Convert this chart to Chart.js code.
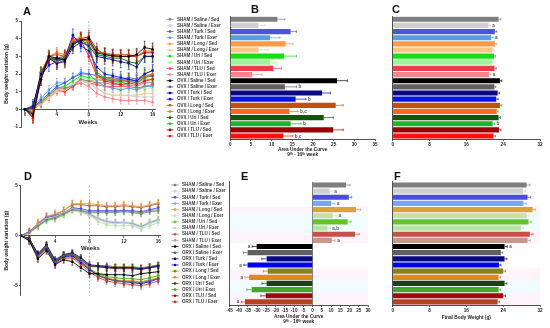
<!DOCTYPE html>
<html><head><meta charset="utf-8">
<script src="https://cdn.jsdelivr.net/npm/chart.js@4.4.1/dist/chart.umd.min.js"></script>
<style>
html,body{margin:0;padding:0;background:#fff}
body{width:550px;height:328px;position:relative;overflow:hidden;font-family:"Liberation Sans",Arial,sans-serif}
canvas{position:absolute}
.pl{position:absolute;font:bold 11px "Liberation Sans",Arial,sans-serif;line-height:11px;color:#111}
</style></head><body>
<canvas id="cA" width="160" height="140" style="left:0;top:0"></canvas>
<canvas id="cB" width="220" height="165" style="left:160px;top:0"></canvas>
<canvas id="cC" width="170" height="165" style="left:380px;top:0"></canvas>
<canvas id="cD" width="165" height="140" style="left:0;top:165px"></canvas>
<canvas id="cE" width="220" height="163" style="left:160px;top:165px"></canvas>
<canvas id="cF" width="170" height="163" style="left:380px;top:165px"></canvas>
<div class="pl" style="left:23px;top:6px">A</div>
<div class="pl" style="left:251px;top:4px">B</div>
<div class="pl" style="left:392px;top:4px">C</div>
<div class="pl" style="left:24px;top:171px">D</div>
<div class="pl" style="left:241px;top:171px">E</div>
<div class="pl" style="left:394px;top:171px">F</div>
<script>
// ---------- shared ----------
const weeks = [0,1,2,3,4,5,6,7,8,9,10,11,12,13,14,15,16];
const weekTicksA = [0,4,8,12,16];
const weekTicksD = [4,8,12,16];
const exerciseStartWeek = 8;

const labelsTop = ["SHAM / Saline / Sed","SHAM / Saline / Exer","SHAM / Turk / Sed","SHAM / Turk / Exer","SHAM / Long / Sed","SHAM / Long / Exer","SHAM / Uri / Sed","SHAM / Uri / Exer","SHAM / TLU / Sed","SHAM / TLU / Exer","OVX / Saline / Sed","OVX / Saline / Exer","OVX / Turk / Sed","OVX / Turk / Exer","OVX / Long / Sed","OVX / Long / Exer","OVX / Uri / Sed","OVX / Uri / Exer","OVX / TLU / Sed","OVX / TLU / Exer"];
const labelsBottom = ["SHAM / Saline / Sed","SHAM / Saline / Exer","SHAM / Turk / Sed","SHAM / Turk / Exer","SHAM / Long / Sed","SHAM / Long / Exer","SHAM / Uri / Sed","SHAM / Uri / Exer","SHAM / TLU / Sed","SHAM / TLU / Exer","ORX / Saline / Sed","ORX / Saline / Exer","ORX / Turk / Sed","ORX / Turk / Exer","ORX / Long / Sed","ORX / Long / Exer","ORX / Uri / Sed","ORX / Uri / Exer","ORX / TLU / Sed","ORX / TLU / Exer"];
const colorsTop = ["#7f7f7f","#cfcfcf","#4c55d9","#5b9be6","#ff9a4a","#ffc48c","#19dd19","#a3f0a3","#f03a46","#f5868c","#000000","#5f5f5f","#0a0a80","#0a14e6","#c0520e","#ff6a1a","#0a5a0a","#22b322","#990000","#ff1111"];
const colorsBottom = ["#7f7f7f","#cfcfcf","#4a4ae0","#7aa6f0","#d9a33a","#c8e0a0","#66c22a","#b5e6a5","#c8504a","#c8978a","#000000","#5f5f5f","#0a0a80","#0000ee","#84841a","#e08a1a","#1f4010","#44a82a","#a00a0a","#b8402a"];

// ---------- Panel A (female body weight variation, g) ----------
const A_sham_saline_sed = [0,0.1,0.4,0.8,1.2,1.2,1.3,1.7,1.6,1.5,1.5,1.4,1.4,1.4,1.3,1.5,1.5];
const A_sham_saline_exer= [0,0.1,0.3,0.7,1.1,1.2,1.4,1.6,1.5,1.2,0.9,0.8,0.8,0.8,0.7,0.7,0.7];
const A_sham_turk_sed   = [0,0.1,0.5,0.9,1.3,1.5,1.8,2.0,2.0,1.9,1.8,1.8,1.7,1.8,1.7,2.0,2.2];
const A_sham_turk_exer  = [0,0.2,0.6,1.1,1.5,1.5,1.8,2.1,2.0,1.6,1.3,1.2,1.1,1.2,1.1,1.3,1.3];
const A_sham_long_sed   = [0,0.0,0.3,0.7,1.1,1.1,1.4,1.7,1.6,1.7,1.6,1.6,1.6,1.7,1.6,1.8,2.0];
const A_sham_long_exer  = [0,0.0,0.3,0.6,1.0,1.1,1.4,1.6,1.5,1.2,0.9,0.8,0.8,0.8,0.8,0.9,0.9];
const A_sham_uri_sed    = [0,0.1,0.4,0.8,1.2,1.3,1.6,1.9,1.8,1.7,1.6,1.6,1.5,1.6,1.5,1.7,1.7];
const A_sham_uri_exer   = [0,0.1,0.4,0.8,1.2,1.3,1.6,1.8,1.7,1.5,1.3,1.2,1.2,1.2,1.1,1.2,1.2];
const A_sham_tlu_sed    = [0,0.0,0.3,0.7,1.1,1.0,1.3,1.6,1.5,1.4,1.3,1.3,1.3,1.3,1.2,1.3,1.4];
const A_sham_tlu_exer   = [0,0.0,0.3,0.7,1.0,1.0,1.3,1.5,1.3,0.9,0.7,0.6,0.5,0.5,0.5,0.5,0.4];
const A_ovx_saline_sed  = [0,-0.3,1.7,3.0,2.9,2.8,3.7,3.9,4.0,3.2,3.1,3.05,3.0,3.0,3.1,3.5,3.4];
const A_ovx_saline_exer = [0,-0.2,1.8,2.9,2.7,2.9,3.7,3.9,3.7,2.0,1.7,1.6,1.6,1.6,1.5,1.8,1.9];
const A_ovx_turk_sed    = [0,0.1,2.0,2.9,2.6,2.7,3.5,3.8,3.6,3.0,2.9,2.8,2.7,2.6,2.4,3.0,3.0];
const A_ovx_turk_exer   = [0,0.2,1.9,2.5,2.7,2.9,4.2,3.6,3.3,2.4,2.0,1.9,1.8,1.7,1.6,2.0,2.2];
const A_ovx_long_sed    = [0,0.0,2.1,3.0,3.1,3.0,3.8,4.0,3.9,3.2,3.2,3.1,3.1,3.1,3.0,3.3,3.3];
const A_ovx_long_exer   = [0,-0.1,2.0,3.0,3.2,3.1,3.9,4.1,3.8,1.9,1.7,1.7,1.6,1.7,1.6,1.9,2.0];
const A_ovx_uri_sed     = [0,-0.2,2.1,2.9,2.8,2.9,3.6,4.0,3.8,3.1,3.0,2.9,2.9,2.7,2.6,3.0,3.0];
const A_ovx_uri_exer    = [0,0.1,2.0,3.0,2.8,2.8,3.8,4.0,3.5,2.1,1.8,1.7,1.7,1.7,1.6,1.9,1.9];
const A_ovx_tlu_sed     = [0,-0.4,1.8,2.8,2.9,3.0,3.9,4.0,4.1,3.4,3.1,3.0,3.0,3.0,3.0,3.2,3.2];
const A_ovx_tlu_exer    = [0,-0.5,1.7,2.9,2.6,2.8,3.8,3.9,3.0,1.9,1.6,1.5,1.4,1.5,1.4,1.6,1.7];
const seriesA = [A_sham_saline_sed,A_sham_saline_exer,A_sham_turk_sed,A_sham_turk_exer,A_sham_long_sed,A_sham_long_exer,A_sham_uri_sed,A_sham_uri_exer,A_sham_tlu_sed,A_sham_tlu_exer,A_ovx_saline_sed,A_ovx_saline_exer,A_ovx_turk_sed,A_ovx_turk_exer,A_ovx_long_sed,A_ovx_long_exer,A_ovx_uri_sed,A_ovx_uri_exer,A_ovx_tlu_sed,A_ovx_tlu_exer];
const semA = [0.2,0.2,0.25,0.25,0.2,0.2,0.25,0.2,0.2,0.2,0.35,0.3,0.35,0.35,0.3,0.3,0.3,0.3,0.35,0.3];

// ---------- Panel D (male body weight variation, g) ----------
const D_sham_saline_sed = [0,0.3,1.0,1.6,1.8,2.2,2.6,2.5,2.3,2.3,2.3,2.3,2.4,2.3,2.2,2.4,2.5];
const D_sham_saline_exer= [0,0.3,1.1,1.7,1.9,2.3,2.7,2.4,2.0,1.6,1.3,1.2,1.3,1.1,0.8,1.2,1.5];
const D_sham_turk_sed   = [0,0.4,1.1,1.8,2.0,2.3,2.8,2.7,2.5,2.5,2.5,2.5,2.5,2.5,2.4,2.6,2.8];
const D_sham_turk_exer  = [0,0.3,1.0,1.7,1.9,2.2,2.7,2.5,2.2,1.7,1.4,1.3,1.3,1.2,0.9,1.3,1.6];
const D_sham_long_sed   = [0,0.4,1.3,1.9,2.2,2.5,3.2,3.2,3.2,3.1,3.0,3.0,3.1,3.0,2.9,3.1,3.3];
const D_sham_long_exer  = [0,0.3,1.1,1.7,2.0,2.3,2.8,2.6,2.3,1.8,1.5,1.4,1.4,1.3,1.0,1.4,1.7];
const D_sham_uri_sed    = [0,0.3,0.9,1.5,1.7,2.1,2.6,2.5,2.4,2.4,2.4,2.4,2.5,2.4,2.3,2.5,2.6];
const D_sham_uri_exer   = [0,0.2,0.9,1.5,1.7,2.0,2.5,2.3,2.0,1.4,1.1,1.0,1.0,1.0,0.7,1.0,1.3];
const D_sham_tlu_sed    = [0,0.4,1.2,1.9,2.1,2.5,3.1,3.1,3.0,3.0,2.9,2.9,3.0,2.9,2.8,3.0,3.2];
const D_sham_tlu_exer   = [0,0.3,1.0,1.6,1.8,2.2,2.6,2.4,2.1,1.7,1.4,1.3,1.3,1.2,0.9,1.3,1.6];
const D_orx_saline_sed  = [0,-0.5,-2.3,-1.5,-2.9,-2.4,-2.6,-3.2,-3.8,-3.8,-3.9,-3.9,-3.9,-4.0,-3.8,-3.7,-3.6];
const D_orx_saline_exer = [0,-0.4,-2.0,-1.1,-2.6,-2.0,-1.9,-2.5,-3.3,-4.0,-4.3,-4.5,-4.6,-4.6,-4.7,-4.5,-4.3];
const D_orx_turk_sed    = [0,-0.3,-1.8,-0.9,-2.4,-1.9,-1.7,-2.2,-2.9,-3.0,-3.1,-3.2,-3.2,-3.2,-3.3,-3.2,-3.0];
const D_orx_turk_exer   = [0,-0.4,-2.0,-1.2,-2.7,-2.1,-2.0,-2.7,-3.4,-4.0,-4.3,-4.5,-4.6,-4.7,-4.8,-4.6,-4.3];
const D_orx_long_sed    = [0,-0.3,-1.9,-1.0,-2.5,-1.9,-1.8,-2.3,-3.0,-3.0,-3.0,-3.1,-3.1,-3.1,-3.2,-3.1,-2.9];
const D_orx_long_exer   = [0,-0.4,-2.1,-1.2,-2.7,-2.2,-2.1,-2.7,-3.4,-3.9,-4.2,-4.4,-4.5,-4.5,-4.6,-4.4,-4.2];
const D_orx_uri_sed     = [0,-0.3,-1.9,-1.0,-2.5,-2.0,-1.8,-2.3,-3.0,-3.1,-3.2,-3.2,-3.2,-3.2,-3.3,-3.1,-3.0];
const D_orx_uri_exer    = [0,-0.4,-2.0,-1.2,-2.6,-2.1,-2.0,-2.6,-3.3,-3.8,-4.1,-4.2,-4.3,-4.3,-4.4,-4.2,-4.0];
const D_orx_tlu_sed     = [0,-0.3,-1.9,-1.0,-2.6,-2.0,-1.9,-2.4,-3.1,-3.1,-3.2,-3.3,-3.3,-3.3,-3.4,-3.2,-3.1];
const D_orx_tlu_exer    = [0,-0.5,-2.2,-1.3,-2.8,-2.3,-2.2,-2.9,-3.6,-4.2,-4.5,-4.7,-4.8,-4.9,-5.0,-4.8,-4.5];
const seriesD = [D_sham_saline_sed,D_sham_saline_exer,D_sham_turk_sed,D_sham_turk_exer,D_sham_long_sed,D_sham_long_exer,D_sham_uri_sed,D_sham_uri_exer,D_sham_tlu_sed,D_sham_tlu_exer,D_orx_saline_sed,D_orx_saline_exer,D_orx_turk_sed,D_orx_turk_exer,D_orx_long_sed,D_orx_long_exer,D_orx_uri_sed,D_orx_uri_exer,D_orx_tlu_sed,D_orx_tlu_exer];
const semD = [0.3,0.3,0.3,0.3,0.35,0.3,0.3,0.3,0.35,0.3,0.35,0.35,0.3,0.35,0.3,0.35,0.3,0.35,0.3,0.35];

// ---------- Bar panels ----------
const aucTop   = [11.4,6.8,14.6,9.6,13.4,6.8,13.0,9.6,10.4,5.3,25.8,13.2,22.2,15.8,25.5,14.3,22.6,14.6,24.9,12.8];
const aucTopErr= [1.8,1.6,1.4,2.4,1.8,2.3,3.0,1.5,2.0,2.3,2.5,2.8,2.0,2.5,1.8,2.1,2.3,2.5,2.4,2.3];
const aucTopNote = ["","","","","","","","","","","","b","","b","","b,c","","b","","b,c"];
const finalTop   = [23.0,20.8,22.2,21.4,22.2,21.7,22.0,21.5,22.1,20.9,23.3,22.1,22.8,22.5,23.3,22.6,23.0,21.7,23.1,21.9];
const finalTopErr= [0.5,0.4,0.4,0.4,0.4,0.3,0.3,0.3,0.4,0.4,0.4,0.3,0.4,0.4,0.4,0.3,0.4,0.4,0.4,0.4];
const finalTopNote = ["","a","","a","","","","","","a","","","","","","","","b","",""];
const aucBottom   = [18.1,9.2,19.6,10.1,23.5,11.0,19.0,8.1,23.0,10.4,-30.3,-35.2,-24.9,-35.2,-24.3,-34.4,-24.9,-33.0,-25.4,-36.6];
const aucBottomErr= [2.2,1.5,1.6,2.0,2.5,2.0,1.8,1.5,2.2,1.8,2.4,2.2,2.6,2.0,2.4,2.2,2.5,2.6,2.6,2.0];
const aucBottomNote = ["","a","","a","","a","","a,b","","a","a","","","a","","a","","","","a"];
const finalBottom   = [29.1,28.3,29.3,28.4,30.4,29.1,29.5,27.9,29.8,29.3,24.3,23.5,24.3,23.1,24.0,23.0,24.3,23.0,24.0,22.8];
const finalBottomErr= [0.7,0.5,0.7,0.6,0.6,0.5,0.6,0.5,0.7,0.6,0.6,0.4,0.5,0.4,0.5,0.4,0.5,0.4,0.5,0.4];
const finalBottomNote = ["","","","","","","","","","","a","","","","","","","","",""];
const rowBandsBottom = ["","","","","p","c","c","c","p","p","","","","","p","p","c","c","p","p"];

// ---------- Chart setup ----------
Chart.defaults.font.family = "'Liberation Sans', Arial, sans-serif";
Chart.defaults.color = '#222';
const INK = '#222';
const tickFont = {size:4.6, weight:'bold'};

const lineErr = {
  id:'lineErr',
  beforeDatasetsDraw(chart){
    const ctx = chart.ctx, ys = chart.scales.y;
    ctx.save();
    chart.data.datasets.forEach((ds,di)=>{
      const meta = chart.getDatasetMeta(di);
      ctx.strokeStyle = ds.borderColor; ctx.lineWidth = 0.6;
      meta.data.forEach((pt,j)=>{
        if (j===0) return;
        const v = ds.data[j].y, e = ds.errorBar;
        const y1 = ys.getPixelForValue(v-e), y2 = ys.getPixelForValue(v+e);
        ctx.beginPath();
        ctx.moveTo(pt.x,y1); ctx.lineTo(pt.x,y2);
        ctx.moveTo(pt.x-1,y1); ctx.lineTo(pt.x+1,y1);
        ctx.moveTo(pt.x-1,y2); ctx.lineTo(pt.x+1,y2);
        ctx.stroke();
      });
    });
    ctx.restore();
  }
};
const vline = {
  id:'vline',
  beforeDatasetsDraw(chart){
    const ctx = chart.ctx, x = chart.scales.x.getPixelForValue(exerciseStartWeek), a = chart.chartArea;
    ctx.save(); ctx.strokeStyle='#9a9a9a'; ctx.lineWidth=0.7; ctx.setLineDash([2,1.5]);
    ctx.beginPath(); ctx.moveTo(x,a.top); ctx.lineTo(x,a.bottom); ctx.stroke(); ctx.restore();
  }
};
const legendMarks = {
  id:'legendMarks',
  afterDraw(chart, args, o){
    if (!o.colors) return;
    const ctx = chart.ctx, ys = chart.scales.y;
    ctx.save();
    o.colors.forEach((c,i)=>{
      const py = ys.getPixelForValue(i);
      ctx.strokeStyle=c; ctx.lineWidth=0.8;
      ctx.beginPath(); ctx.moveTo(o.x-3.5,py); ctx.lineTo(o.x+3.5,py); ctx.stroke();
      ctx.fillStyle=c; ctx.beginPath(); ctx.arc(o.x,py,1.3,0,Math.PI*2); ctx.fill();
    });
    ctx.restore();
  }
};
const barExtras = {
  id:'barExtras',
  beforeDatasetsDraw(chart, args, o){
    if (!o.bands) return;
    const ctx = chart.ctx, ys = chart.scales.y, a = chart.chartArea;
    const h = (a.bottom-a.top)/o.bands.length;
    ctx.save();
    o.bands.forEach((b,i)=>{
      if (!b) return;
      ctx.fillStyle = b==='p' ? 'rgba(255,170,215,0.13)' : 'rgba(150,235,255,0.13)';
      const py = ys.getPixelForValue(i);
      ctx.fillRect(a.left, py-h/2, a.right-a.left, h);
    });
    ctx.restore();
  },
  afterDatasetsDraw(chart, args, o){
    const ctx = chart.ctx, xs = chart.scales.x, ds = chart.data.datasets[0];
    const meta = chart.getDatasetMeta(0);
    ctx.save();
    meta.data.forEach((bar,i)=>{
      const v = ds.data[i], e = o.errors[i], s = v<0?-1:1;
      const x1 = xs.getPixelForValue(v), x2 = xs.getPixelForValue(v+s*e);
      ctx.strokeStyle = ds.backgroundColor[i]; ctx.lineWidth = 0.7;
      ctx.beginPath(); ctx.moveTo(x1,bar.y); ctx.lineTo(x2,bar.y);
      ctx.moveTo(x2,bar.y-1.3); ctx.lineTo(x2,bar.y+1.3); ctx.stroke();
      if (o.notes[i]) {
        ctx.fillStyle='#555'; ctx.font="bold 4.6px 'Liberation Sans', Arial";
        ctx.textBaseline='middle'; ctx.textAlign = s>0?'left':'right';
        ctx.fillText(o.notes[i], x2+s*2, bar.y+0.3);
      }
    });
    ctx.restore();
  }
};

function lineChart(id, series, colors, labels, sem, cfg){
  return new Chart(document.getElementById(id), {
    type:'line',
    data:{datasets: series.map((s,i)=>({
      label: labels[i],
      data: weeks.map((w,j)=>({x:w, y:s[j]})),
      borderColor: colors[i], backgroundColor: colors[i],
      borderWidth: 0.9, pointRadius: 1.3, pointBorderWidth: 0,
      errorBar: sem[i], order: i<10 ? 1 : 0
    }))},
    options:{
      responsive:false, animation:false, events:[],
      layout:{padding:cfg.padding},
      plugins:{legend:{display:false}, tooltip:{enabled:false}},
      scales:{
        x:{type:'linear', min:cfg.xmin, max:cfg.xmax, position:{y:0},
           afterBuildTicks:s=>{ s.ticks = cfg.xticks.map(v=>({value:v})); },
           ticks:{font:tickFont, color:INK, padding:1, maxRotation:0, autoSkip:false},
           grid:{drawOnChartArea:false, tickLength:2, color:INK, lineWidth:0.7},
           border:{color:INK, width:0.8},
           title:{display:true, text:'Weeks', font:{size:6, weight:'bold'}, color:INK, padding:{top:0,bottom:cfg.wpad}}},
        y:{min:cfg.ymin, max:cfg.ymax,
           afterBuildTicks:s=>{ s.ticks = cfg.yticks.map(v=>({value:v})); },
           afterFit:s=>{ s.width = cfg.yw; },
           ticks:{font:tickFont, color:INK, padding:1},
           grid:{drawOnChartArea:false, tickLength:2, color:INK, lineWidth:0.7},
           border:{color:INK, width:0.8},
           title:{display:true, text:'Body weight variation (g)', font:{size:5, weight:'bold'}, color:INK, padding:{top:4,bottom:0}}}
      }
    },
    plugins:[lineErr, vline]
  });
}

function barChart(id, labels, colors, values, errs, notes, cfg){
  return new Chart(document.getElementById(id), {
    type:'bar',
    data:{labels: labels, datasets:[{data: values, backgroundColor: colors, borderWidth:0, barPercentage:0.84, categoryPercentage:1}]},
    options:{
      indexAxis:'y', responsive:false, animation:false, events:[],
      layout:{padding:cfg.padding},
      plugins:{legend:{display:false}, tooltip:{enabled:false},
        legendMarks: cfg.marks || {},
        barExtras:{errors: errs, notes: notes, bands: cfg.bands}},
      scales:{
        x:{type:'linear', min:cfg.xmin, max:cfg.xmax,
           afterBuildTicks:s=>{ s.ticks = cfg.xticks.map(v=>({value:v})); },
           afterFit:s=>{ s.height = cfg.xh; },
           ticks:{font:tickFont, color:INK, padding:1, maxRotation:0, autoSkip:false},
           grid:{display:true, drawOnChartArea: !!cfg.zeroLine, tickLength:2, tickColor:INK,
                 color: c => (c.tick && c.tick.value===0) ? '#444' : 'rgba(0,0,0,0)', lineWidth:0.7},
           border:{color:INK, width:0.8},
           title:{display: !!cfg.title, text: cfg.title || '', font:{size:4.8, weight:'bold', lineHeight:1}, color:INK, padding:{top:0,bottom:cfg.tpad||0}}},
        y:{type:'category', offset:true,
           afterFit:s=>{ s.width = cfg.yw; },
           ticks:{display: !!cfg.showLabels, crossAlign:'far', font:{size:4.5, weight:'bold'}, color:'#3a3a3a', padding:0, autoSkip:false},
           grid:{display:false},
           border:{color:INK, width:0.8}}
      }
    },
    plugins:[legendMarks, barExtras]
  });
}

// Panel A
lineChart('cA', seriesA, colorsTop, labelsTop, semA, {
  padding:{left:0, top:21, right:5, bottom:13}, xmin:-0.5, xmax:16.3, xticks:weekTicksA,
  ymin:-1, ymax:5, yticks:[-1,0,1,2,3,4,5], yw:21, wpad:0});
// Panel D
lineChart('cD', seriesD, colorsBottom, labelsBottom, semD, {
  padding:{left:0, top:20.7, right:5, bottom:9.3}, xmin:0, xmax:16.2, xticks:weekTicksD,
  ymin:-6, ymax:5, yticks:[-5,0,5], yw:20.7, wpad:0});

// Panel B (labels act as the legend)
barChart('cB', labelsTop, colorsTop, aucTop, aucTopErr, aucTopNote, {
  padding:{left:17, top:16.2, right:5, bottom:6}, yw:53.3, xh:19.9, showLabels:true,
  xmin:0, xmax:35, xticks:[0,5,10,15,20,25,30,35],
  title:['Area Under the Curve','9ᵗʰ - 16ᵗʰ week'], tpad:1.8,
  marks:{colors:colorsTop, x:10}});
// Panel C
barChart('cC', labelsTop, colorsTop, finalTop, finalTopErr, finalTopNote, {
  padding:{left:12.7, top:16.2, right:10, bottom:6}, yw:0, xh:19.9,
  xmin:0, xmax:32, xticks:[0,8,16,24,32]});
// Panel E
barChart('cE', labelsBottom, colorsBottom, aucBottom, aucBottomErr, aucBottomNote, {
  padding:{left:22, top:16.9, right:12, bottom:4}, yw:47.5, xh:19, showLabels:true,
  xmin:-45, xmax:30, xticks:[-45,-40,-35,-30,-25,-20,-15,-10,-5,0,5,10,15,20,25,30], zeroLine:true,
  title:['Area Under the Curve','9ᵗʰ - 16ᵗʰ week'], tpad:0.1, bands: rowBandsBottom,
  marks:{colors:colorsBottom, x:15}});
// Panel F
barChart('cF', labelsBottom, colorsBottom, finalBottom, finalBottomErr, finalBottomNote, {
  padding:{left:12.7, top:16.9, right:10, bottom:6}, yw:0, xh:17,
  xmin:0, xmax:32, xticks:[0,8,16,24,32],
  title:'Final Body Weight (g)', tpad:1.9, bands: rowBandsBottom});
</script>
</body></html>
